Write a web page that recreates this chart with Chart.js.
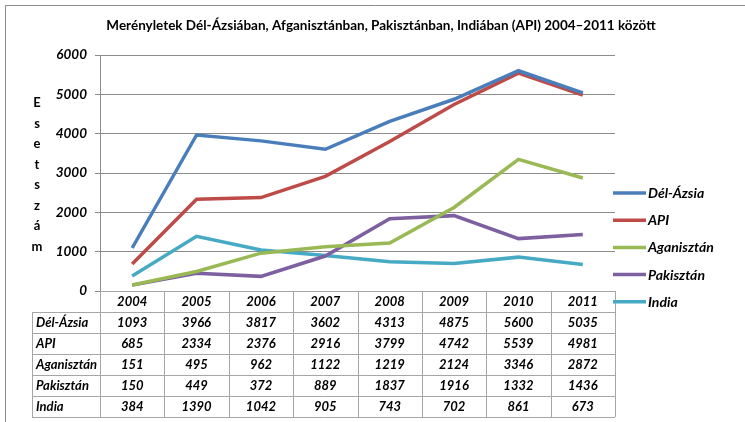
<!DOCTYPE html>
<html>
<head>
<meta charset="utf-8">
<script src="https://cdn.jsdelivr.net/npm/chart.js@4/dist/chart.umd.min.js"></script>
<style>
  html, body { margin: 0; padding: 0; background: #fff; }
  canvas { display: block; }
</style>
</head>
<body>
<canvas id="myChart" width="745" height="422"></canvas>
<script>
const years = ['2004', '2005', '2006', '2007', '2008', '2009', '2010', '2011'];
const delAzsia = [1093, 3966, 3817, 3602, 4313, 4875, 5600, 5035];
const api = [685, 2334, 2376, 2916, 3799, 4742, 5539, 4981];
const aganisztan = [151, 495, 962, 1122, 1219, 2124, 3346, 2872];
const pakisztan = [150, 449, 372, 889, 1837, 1916, 1332, 1436];
const india = [384, 1390, 1042, 905, 743, 702, 861, 673];
const seriesNames = ['Dél-Ázsia', 'API', 'Aganisztán', 'Pakisztán', 'India'];
const seriesColors = ['#4a7ebb', '#be4b48', '#98b954', '#7d60a0', '#46aac5'];
const chartTitle = 'Merényletek Dél-Ázsiában, Afganisztánban, Pakisztánban, Indiában (API) 2004–2011 között';
const axisTitle = 'Esetszám';

const FONT = 'Lato, "Liberation Sans", sans-serif';

const extras = {
  id: 'extras',
  afterDraw(chart) {
    const ctx = chart.ctx;
    const area = chart.chartArea;
    const xs = chart.scales.x;
    ctx.save();

    // outer frame
    ctx.strokeStyle = '#8c8c8c';
    ctx.lineWidth = 1;
    ctx.beginPath();
    ctx.moveTo(5.5, 430);
    ctx.lineTo(5.5, 5.5);
    ctx.lineTo(745, 5.5);
    ctx.stroke();

    // title
    ctx.fillStyle = '#000';
    ctx.font = 'bold 13.5px ' + FONT;
    ctx.textAlign = 'center';
    ctx.textBaseline = 'middle';
    ctx.fillText(chartTitle, 381, 26);

    // stacked axis title
    ctx.font = 'bold 13px ' + FONT;
    [...axisTitle].forEach((ch, i) => ctx.fillText(ch, 37, 103 + i * 20.5));

    // data table
    const top = area.bottom;
    const rowH = 21;
    const left = 32;
    const step = (area.right - area.left) / years.length;
    const bottom = top + rowH * 6;
    ctx.strokeStyle = '#a6a6a6';
    ctx.beginPath();
    ctx.moveTo(area.left, top + 0.5);
    ctx.lineTo(area.right, top + 0.5);
    for (let r = 1; r <= 6; r++) {
      const y = Math.round(top + r * rowH) + 0.5;
      ctx.moveTo(left, y);
      ctx.lineTo(area.right, y);
    }
    ctx.moveTo(left + 0.5, top + rowH);
    ctx.lineTo(left + 0.5, bottom);
    for (let c = 0; c <= years.length; c++) {
      const x = Math.round(area.left + c * step) + 0.5;
      ctx.moveTo(x, top);
      ctx.lineTo(x, bottom);
    }
    ctx.stroke();

    ctx.fillStyle = '#000';
    ctx.font = 'italic bold 13px ' + FONT;
    ctx.textAlign = 'center';
    years.forEach((y, i) => ctx.fillText(y, xs.getPixelForValue(i), top + rowH / 2 + 0.5));
    chart.data.datasets.forEach((ds, r) => {
      const cy = top + (r + 1) * rowH + rowH / 2 + 0.5;
      ctx.textAlign = 'left';
      ctx.fillText(ds.label, 36, cy);
      ctx.textAlign = 'center';
      ds.data.forEach((v, i) => ctx.fillText(String(v), xs.getPixelForValue(i), cy));
    });

    // legend
    ctx.font = 'italic bold 14px ' + FONT;
    ctx.textAlign = 'left';
    chart.data.datasets.forEach((ds, i) => {
      const y = 193 + i * 27.2;
      ctx.strokeStyle = ds.borderColor;
      ctx.lineWidth = 3.5;
      ctx.beginPath();
      ctx.moveTo(613, y);
      ctx.lineTo(646, y);
      ctx.stroke();
      ctx.fillStyle = '#000';
      ctx.fillText(ds.label, 648, y + 0.5);
    });

    ctx.restore();
  }
};

const seriesData = [delAzsia, api, aganisztan, pakisztan, india];

new Chart(document.getElementById('myChart').getContext('2d'), {
  type: 'line',
  data: {
    labels: years,
    datasets: seriesData.map((d, i) => ({
      label: seriesNames[i],
      data: d,
      borderColor: seriesColors[i],
      backgroundColor: seriesColors[i],
      borderWidth: 3.5,
      pointRadius: 0,
      tension: 0,
      fill: false
    }))
  },
  options: {
    responsive: false,
    animation: false,
    layout: { padding: { left: 40, right: 130, top: 55, bottom: 131 } },
    plugins: {
      legend: { display: false },
      title: { display: false },
      tooltip: { enabled: false }
    },
    scales: {
      x: { display: false, offset: true },
      y: {
        min: 0,
        max: 6000,
        afterFit: s => { s.width = 60; },
        ticks: {
          stepSize: 1000,
          color: '#000',
          padding: 8,
          callback: v => String(v),
          font: { family: FONT, size: 13.5, style: 'italic', weight: 'bold' }
        },
        grid: { color: '#8c8c8c', tickLength: 5 },
        border: { color: '#8c8c8c' }
      }
    }
  },
  plugins: [extras]
});
</script>
</body>
</html>
